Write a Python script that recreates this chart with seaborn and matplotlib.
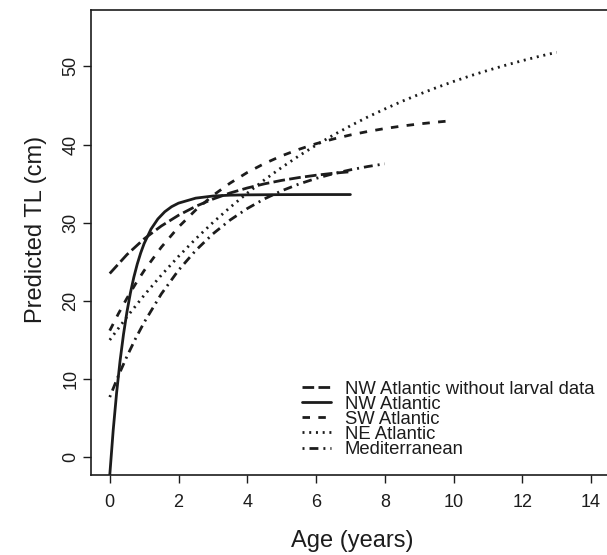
import numpy as np
import pandas as pd
import matplotlib
matplotlib.use("Agg")
import matplotlib.pyplot as plt
import seaborn as sns

# predicted total length (cm) by age (years)
nw_nolarv_age = [0, 0.5, 1, 1.5, 2, 2.5, 3, 3.5, 4, 4.5, 5, 5.5, 6, 6.5, 7]
nw_nolarv_tl = [23.5, 25.92, 27.93, 29.58, 30.95, 32.09, 33.02, 33.80, 34.44, 34.97,
                35.41, 35.77, 36.07, 36.32, 36.52]

nw_age = [0, 0.1, 0.2, 0.3, 0.4, 0.5, 0.6, 0.7, 0.8, 0.9, 1.0, 1.2, 1.4, 1.6, 1.8,
          2.0, 2.5, 3.0, 3.5, 4, 5, 6, 7]
nw_tl = [-2.3, 3.45, 8.27, 12.33, 15.73, 18.59, 21.0, 23.02, 24.71, 26.13, 27.33,
         29.18, 30.48, 31.40, 32.05, 32.50, 33.14, 33.41, 33.52, 33.56, 33.59, 33.6, 33.6]

sw_age = [0, 0.25, 0.5, 0.75, 1, 1.5, 2, 2.5, 3, 3.5, 4, 4.5, 5, 5.5, 6, 6.5, 7,
          7.5, 8, 8.5, 9, 9.5, 10]
sw_tl = [16.2, 18.35, 20.34, 22.17, 23.87, 26.87, 29.44, 31.62, 33.48, 35.06, 36.42,
         37.57, 38.55, 39.38, 40.10, 40.70, 41.22, 41.66, 42.04, 42.36, 42.63, 42.86, 43.06]

ne_age = [0, 0.5, 1, 1.5, 2, 2.5, 3, 3.5, 4, 4.5, 5, 5.5, 6, 6.5, 7, 7.5, 8, 8.5,
          9, 9.5, 10, 10.5, 11, 11.5, 12, 12.5, 13]
ne_tl = [15.0, 17.96, 20.72, 23.29, 25.69, 27.93, 30.02, 31.96, 33.78, 35.48, 37.06,
         38.54, 39.91, 41.20, 42.39, 43.51, 44.54, 45.52, 46.42, 47.27, 48.06, 48.80,
         49.48, 50.12, 50.72, 51.28, 51.79]

med_age = [0, 0.25, 0.5, 0.75, 1, 1.5, 2, 2.5, 3, 3.5, 4, 4.5, 5, 5.5, 6, 6.5, 7, 7.5, 8]
med_tl = [7.70, 10.42, 12.90, 15.18, 17.25, 20.89, 23.92, 26.45, 28.57, 30.34, 31.81,
          33.05, 34.08, 34.94, 35.66, 36.26, 36.76, 37.18, 37.53]

regions = ["NW Atlantic without larval data", "NW Atlantic", "SW Atlantic",
           "NE Atlantic", "Mediterranean"]

frames = []
for name, a, l in zip(regions,
                      [nw_nolarv_age, nw_age, sw_age, ne_age, med_age],
                      [nw_nolarv_tl, nw_tl, sw_tl, ne_tl, med_tl]):
    frames.append(pd.DataFrame({"age": a, "tl": l, "region": name}))
df = pd.concat(frames, ignore_index=True)

sns.set_style("ticks")
plt.rcParams["font.family"] = ["Liberation Sans", "DejaVu Sans"]

ink = "#1c1c1c"
dash_map = {
    "NW Atlantic without larval data": (4.2, 1.55),
    "NW Atlantic": "",
    "SW Atlantic": (2.7, 3.0),
    "NE Atlantic": (0.72, 1.7),
    "Mediterranean": (0.72, 1.8, 3.2, 1.8),
}

fig = plt.figure(figsize=(6.07, 5.55), dpi=100)
ax = fig.add_axes([90.5 / 607, 1 - 474.5 / 555, (610.3 - 90.5) / 607, 464.5 / 555])

sns.lineplot(data=df, x="age", y="tl", hue="region", style="region",
             hue_order=regions, style_order=regions,
             palette=[ink] * 5, dashes=dash_map, linewidth=2.0,
             estimator=None, sort=False, legend=False, ax=ax)

ax.set_xlim(-0.56, 14.56)
ax.set_ylim(-2.2, 57.2)
ax.set_xticks(np.arange(0, 15, 2))
ax.set_yticks(np.arange(0, 51, 10))

for s in ax.spines.values():
    s.set_visible(True)
    s.set_linewidth(1.2)
    s.set_color(ink)

ax.tick_params(axis="both", length=6, width=1.0, color=ink, labelsize=13, labelcolor=ink)
ax.tick_params(axis="x", pad=8)
ax.tick_params(axis="y", pad=2, labelrotation=90)
for t in ax.get_yticklabels():
    t.set_va("center")

ax.set_xlabel("Age (years)", fontsize=17, color=ink)
ax.set_ylabel("Predicted TL (cm)", fontsize=17, color=ink)
ax.xaxis.set_label_coords((352 - 90.5) / 519.8, -(529.5 - 474.5) / 464.5)
ax.yaxis.set_label_coords(-(90.5 - 47) / 519.8, 0.527)

handles = ax.get_lines()[:5]
ax.legend(handles, regions, loc="upper left",
          bbox_to_anchor=(302.3 / 607, 1 - 380.5 / 555), bbox_transform=fig.transFigure,
          frameon=False, fontsize=13.3, handlelength=1.55, handletextpad=0.76,
          labelspacing=-0.1, borderpad=0, borderaxespad=0)
for t in ax.get_legend().get_texts():
    t.set_color(ink)

fig.savefig("out.png", dpi=100)
